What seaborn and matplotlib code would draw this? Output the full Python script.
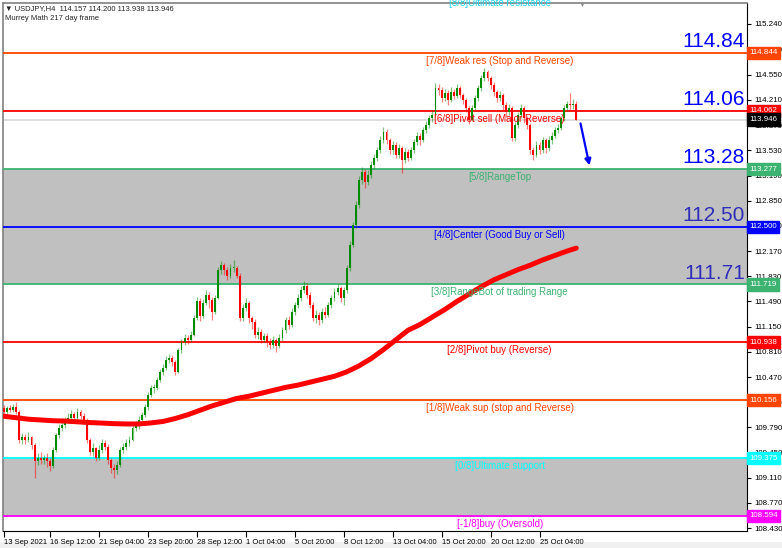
import matplotlib
matplotlib.use("Agg")
import matplotlib.pyplot as plt
import matplotlib.transforms as mtransforms
from matplotlib.patches import Rectangle
import pandas as pd
import seaborn as sns

# USDJPY H4 candles (open = previous close)
first_open = 110.05
closes = [
    110.00, 110.05, 110.03, 110.06, 110.00, 109.62, 109.66, 109.62, 109.66, 109.55, 109.33, 109.38, 109.35, 109.38, 109.33, 109.27,
    109.49, 109.69, 109.78, 109.82, 109.89, 109.92, 109.97, 109.92, 110.00, 109.94, 109.89, 109.62, 109.46, 109.51, 109.38, 109.49,
    109.58, 109.53, 109.35, 109.24, 109.21, 109.28, 109.49, 109.53, 109.58, 109.62, 109.78, 109.82, 109.89, 109.96, 110.06, 110.23,
    110.32, 110.32, 110.43, 110.54, 110.59, 110.70, 110.73, 110.67, 110.54, 110.83, 110.94, 111.00, 110.97, 111.04, 111.27, 111.50,
    111.30, 111.47, 111.58, 111.51, 111.35, 111.54, 111.91, 111.98, 111.91, 111.84, 111.94, 111.94, 111.84, 111.26, 111.40, 111.47,
    111.26, 111.21, 111.04, 111.08, 110.97, 111.02, 110.94, 110.90, 110.97, 110.89, 111.00, 111.10, 111.24, 111.17, 111.35, 111.44,
    111.54, 111.64, 111.70, 111.58, 111.44, 111.26, 111.31, 111.24, 111.35, 111.31, 111.44, 111.54, 111.62, 111.67, 111.54, 111.64,
    111.94, 112.25, 112.52, 112.79, 113.13, 113.24, 113.10, 113.20, 113.33, 113.43, 113.53, 113.67, 113.78, 113.67, 113.53, 113.60,
    113.47, 113.56, 113.40, 113.51, 113.43, 113.53, 113.64, 113.73, 113.67, 113.80, 113.87, 113.96, 114.01, 114.37, 114.34, 114.24,
    114.30, 114.21, 114.32, 114.27, 114.37, 114.28, 114.21, 114.10, 113.94, 114.10, 114.24, 114.37, 114.51, 114.59, 114.51, 114.41,
    114.32, 114.24, 114.28, 114.14, 114.05, 114.10, 113.70, 113.87, 114.01, 114.10, 113.96, 113.87, 113.53, 113.47, 113.60, 113.53,
    113.67, 113.56, 113.67, 113.73, 113.80, 113.83, 113.96, 114.10, 114.15, 114.14, 114.157, 113.946,
]
highs = [
    110.09, 110.08, 110.09, 110.10, 110.13, 110.02, 109.72, 109.70, 109.73, 109.68, 109.58, 109.45, 109.46, 109.42, 109.44, 109.38,
    109.52, 109.72, 109.83, 109.87, 109.93, 109.98, 110.02, 110.00, 110.05, 110.03, 109.98, 109.91, 109.65, 109.58, 109.53, 109.55,
    109.63, 109.62, 109.56, 109.38, 109.30, 109.33, 109.52, 109.58, 109.63, 109.68, 109.82, 109.88, 109.94, 110.00, 110.10, 110.27,
    110.36, 110.38, 110.47, 110.58, 110.64, 110.75, 110.78, 110.77, 110.70, 110.86, 110.98, 111.05, 111.04, 111.09, 111.31, 111.55,
    111.53, 111.52, 111.64, 111.62, 111.55, 111.58, 111.95, 112.04, 112.01, 111.95, 111.99, 112.05, 111.97, 111.87, 111.46, 111.53,
    111.50, 111.30, 111.25, 111.14, 111.12, 111.07, 111.06, 111.00, 111.02, 111.00, 111.05, 111.15, 111.28, 111.30, 111.40, 111.48,
    111.59, 111.70, 111.76, 111.74, 111.62, 111.48, 111.37, 111.35, 111.40, 111.42, 111.48, 111.58, 111.67, 111.73, 111.70, 111.68,
    111.98, 112.30, 112.56, 112.84, 113.18, 113.30, 113.28, 113.26, 113.38, 113.48, 113.58, 113.72, 113.84, 113.82, 113.70, 113.66,
    113.64, 113.62, 113.59, 113.56, 113.55, 113.58, 113.68, 113.78, 113.77, 113.85, 113.92, 114.01, 114.07, 114.44, 114.43, 114.38,
    114.36, 114.34, 114.38, 114.36, 114.42, 114.40, 114.31, 114.24, 114.13, 114.14, 114.28, 114.41, 114.55, 114.64, 114.62, 114.54,
    114.45, 114.35, 114.33, 114.31, 114.18, 114.16, 114.13, 113.91, 114.05, 114.16, 114.13, 114.00, 113.90, 113.58, 113.65, 113.64,
    113.71, 113.70, 113.72, 113.78, 113.85, 113.89, 114.00, 114.14, 114.20, 114.30, 114.22, 114.200,
]
lows = [
    109.96, 109.97, 110.00, 110.00, 109.97, 109.58, 109.57, 109.56, 109.59, 109.50, 109.10, 109.28, 109.30, 109.30, 109.25, 109.20,
    109.24, 109.46, 109.65, 109.74, 109.78, 109.85, 109.88, 109.87, 109.89, 109.90, 109.84, 109.58, 109.42, 109.40, 109.33, 109.35,
    109.45, 109.48, 109.30, 109.18, 109.10, 109.16, 109.25, 109.44, 109.48, 109.54, 109.60, 109.74, 109.77, 109.85, 109.93, 110.03,
    110.20, 110.26, 110.29, 110.40, 110.50, 110.56, 110.66, 110.62, 110.50, 110.52, 110.80, 110.90, 110.92, 110.94, 111.02, 111.24,
    111.22, 111.27, 111.44, 111.40, 111.24, 111.32, 111.52, 111.86, 111.85, 111.78, 111.80, 111.89, 111.80, 111.22, 111.22, 111.36,
    111.20, 111.12, 110.99, 110.98, 110.93, 110.94, 110.88, 110.85, 110.86, 110.81, 110.86, 110.96, 111.07, 111.12, 111.14, 111.31,
    111.40, 111.50, 111.60, 111.54, 111.40, 111.22, 111.20, 111.17, 111.20, 111.26, 111.28, 111.40, 111.50, 111.58, 111.48, 111.44,
    111.60, 111.90, 112.22, 112.48, 112.75, 113.08, 113.02, 113.06, 113.16, 113.28, 113.38, 113.50, 113.63, 113.62, 113.48, 113.48,
    113.42, 113.43, 113.22, 113.36, 113.38, 113.40, 113.49, 113.60, 113.60, 113.64, 113.76, 113.83, 113.91, 113.98, 114.28, 114.18,
    114.20, 114.14, 114.18, 114.22, 114.24, 114.23, 114.16, 114.05, 113.88, 113.92, 114.07, 114.20, 114.33, 114.46, 114.46, 114.36,
    114.27, 114.18, 114.20, 114.08, 113.98, 114.01, 113.65, 113.66, 113.83, 113.97, 113.90, 113.82, 113.48, 113.40, 113.44, 113.48,
    113.50, 113.50, 113.52, 113.62, 113.69, 113.76, 113.80, 113.92, 114.06, 114.08, 114.09, 113.938,
]

# moving average, read every 4th bar plus the last one
ma_bars = list(range(0, 185, 4)) + [187]
ma_values = [109.94, 109.92, 109.90, 109.89, 109.88, 109.875, 109.865, 109.855, 109.848, 109.84, 109.836, 109.836,
             109.85, 109.87, 109.91, 109.96, 110.02, 110.08, 110.13, 110.18, 110.21, 110.25, 110.29, 110.33,
             110.36, 110.40, 110.44, 110.48, 110.54, 110.62, 110.72, 110.84, 110.97, 111.10, 111.18, 111.28,
             111.38, 111.49, 111.59, 111.69, 111.78, 111.85, 111.92, 111.98, 112.05, 112.11, 112.17, 112.21]

# Murrey Math levels
level_prices = [115.625, 114.844, 114.062, 113.277, 112.500, 111.719, 110.938, 110.156, 109.375, 108.594]
level_names = ["[8/8]Ultimate resistance", "[7/8]Weak res (Stop and Reverse)", "[6/8]Pivot sell (Major Reverse)",
               "[5/8]RangeTop", "[4/8]Center (Good Buy or Sell)", "[3/8]RangeBot of trading Range",
               "[2/8]Pivot buy (Reverse)", "[1/8]Weak sup (stop and Reverse)", "[0/8]Ultimate support",
               "[-1/8]buy (Oversold)"]
level_colors = ["#22D3EE", "#FF4500", "#FF0000", "#3CB371", "#0000FF", "#3CB371",
                "#FF0000", "#FF4500", "#00FFFF", "#FF00FF"]
big_labels = ["114.84", "114.06", "113.28", "112.50", "111.71"]
big_colors = ["#0000FF", "#0000FF", "#0000FF", "#2E2EB8", "#2E2EB8"]

current_price = 113.946
price_ticks = [108.430, 108.770, 109.110, 109.450, 109.790, 110.130, 110.470, 110.810, 111.150, 111.490,
               111.830, 112.170, 112.510, 112.850, 113.190, 113.530, 113.870, 114.210, 114.550, 114.890, 115.240]
date_labels = ["13 Sep 2021", "16 Sep 12:00", "21 Sep 04:00", "23 Sep 20:00", "28 Sep 12:00", "1 Oct 04:00",
               "5 Oct 20:00", "8 Oct 12:00", "13 Oct 04:00", "15 Oct 20:00", "20 Oct 12:00", "25 Oct 04:00"]

df = pd.DataFrame({"open": [first_open] + closes[:-1], "high": highs, "low": lows, "close": closes})
df["bar"] = range(len(df))
df["up"] = df["close"] >= df["open"]

sns.set_theme(style="white")
plt.rcParams["font.family"] = ["Liberation Sans", "DejaVu Sans"]

fig = plt.figure(figsize=(7.82, 5.48), dpi=100)
ax = fig.add_axes([3 / 782, 17 / 548, 744 / 782, 528 / 548])
ax.set_facecolor("white")

# grey zones
ax.axhspan(level_prices[5], level_prices[3], color="#C0C0C0", lw=0, zorder=1)
ax.axhspan(level_prices[9], level_prices[8], color="#C0C0C0", lw=0, zorder=1)

ax.axhline(current_price, color="#D8D8D8", lw=1.2, zorder=2)
for p, c in zip(level_prices, level_colors):
    ax.axhline(p, color=c, lw=1.3, zorder=3)

# candles
for is_up, col in [(True, "#008C00"), (False, "#FF0000")]:
    d = df[df["up"] == is_up]
    ax.vlines(d["bar"], d["low"], d["high"], color=col, lw=0.9, alpha=0.5, zorder=4)
    body = (d["close"] - d["open"]).abs().clip(lower=0.012)
    ax.bar(d["bar"], body, bottom=d[["open", "close"]].min(axis=1), width=0.62, color=col, lw=0, zorder=5)

sns.lineplot(x=ma_bars, y=ma_values, color="#FF0000", lw=3.6, ax=ax, zorder=6)

# level captions
for p, name, c in zip(level_prices, level_names, level_colors):
    ax.text(162, p - 0.04, name, ha="center", va="top", color=c, fontsize=7, zorder=7, clip_on=False)

blend = mtransforms.blended_transform_factory(ax.transAxes, ax.transData)
for p, lab, c in zip(level_prices[1:6], big_labels, big_colors):
    ax.text(0.997, p + 0.025, lab, transform=blend, ha="right", va="bottom", color=c, fontsize=15, zorder=7)

# price boxes on the right scale
box_prices = level_prices[1:3] + [current_price] + level_prices[3:]
box_colors = level_colors[1:3] + ["#000000"] + level_colors[3:]
for p, c in zip(box_prices, box_colors):
    ax.text(1.003, p, f"{p:.3f}", transform=blend, ha="left", va="center", color="white", fontsize=5.7,
            zorder=10, clip_on=False, bbox=dict(boxstyle="square,pad=0.32", fc=c, ec=c))

ax.annotate("", xy=(191.5, 113.29), xytext=(188.2, 113.93),
            arrowprops=dict(arrowstyle="-|>", color="#0000FF", lw=1.6, mutation_scale=9), zorder=8)

ax.set_xlim(-0.33, 242.8)
ax.set_ylim(108.391, 115.519)
ax.yaxis.tick_right()
ax.set_yticks(price_ticks)
ax.set_yticklabels([f"{t:.3f}" for t in price_ticks])
ax.set_xticks([0] + [15 + 16 * k for k in range(len(date_labels) - 1)])
ax.set_xticklabels(date_labels, ha="left")
ax.tick_params(axis="y", right=True, length=3, width=0.8, pad=2, labelsize=5.7, colors="black")
ax.tick_params(axis="x", bottom=True, length=4, width=0.8, pad=1.5, labelsize=5.5, colors="black")
ax.set_xlabel("")
ax.set_ylabel("")
for side in ["right", "bottom"]:
    ax.spines[side].set_color("black")
    ax.spines[side].set_linewidth(0.8)
for side in ["left", "top"]:
    ax.spines[side].set_color("#808080")
    ax.spines[side].set_linewidth(1.2)

fig.text(5 / 782, 1 - 9 / 548, "\u25bc USDJPY,H4  114.157 114.200 113.938 113.946", fontsize=5.5, va="center")
fig.text(5 / 782, 1 - 19 / 548, "Murrey Math 217 day frame", fontsize=5.5, va="center")
fig.text(582 / 782, 1 - 5 / 548, "\u25bc", fontsize=5, color="#909090", ha="center", va="center")
fig.patches.append(Rectangle((0, 0), 1, 6 / 548, transform=fig.transFigure, fc="#F0F0F0", ec="none", zorder=-1))

fig.savefig("out.png", dpi=100)
